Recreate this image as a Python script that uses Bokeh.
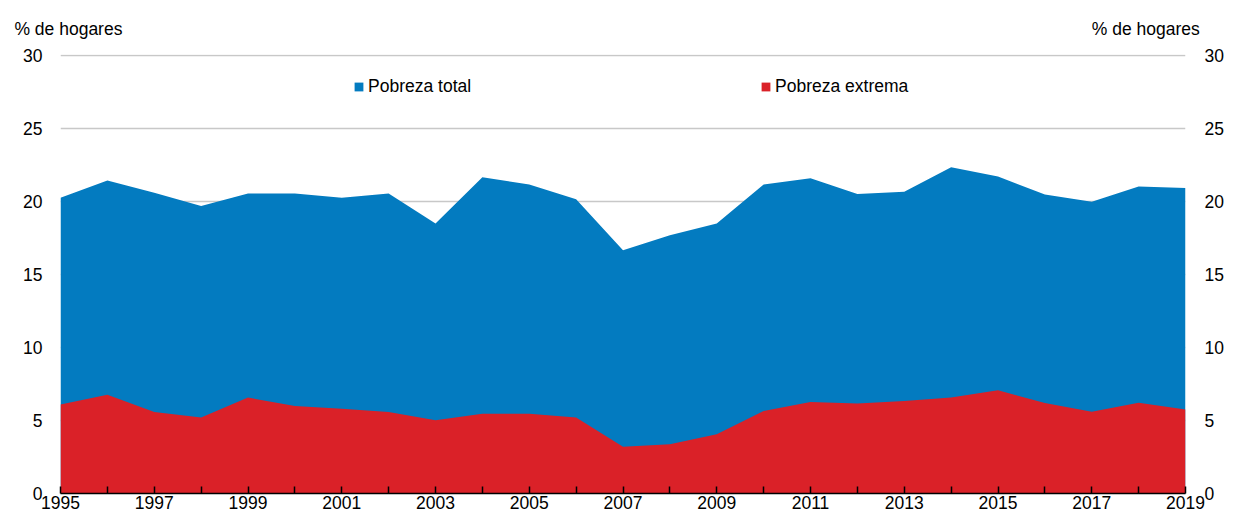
from bokeh.plotting import figure
from bokeh.models import (Range1d, LinearAxis, FixedTicker, Legend, LegendItem,
                          ColumnDataSource, CustomJSTickFormatter)
from bokeh.embed import file_html
from bokeh.resources import INLINE

years = list(range(1995, 2020))
pobreza_total = [20.26, 21.45, 20.6, 19.7, 20.55, 20.55, 20.26, 20.55, 18.5, 21.67,
                 21.17, 20.17, 16.67, 17.7, 18.5, 21.17, 21.6, 20.53, 20.67, 22.35,
                 21.72, 20.49, 19.99, 21.04, 20.94]
pobreza_extrema = [6.1, 6.77, 5.58, 5.2, 6.57, 6.0, 5.8, 5.58, 5.02, 5.47,
                   5.47, 5.2, 3.2, 3.38, 4.06, 5.65, 6.27, 6.16, 6.34, 6.57,
                   7.07, 6.2, 5.61, 6.22, 5.75]
y_ticks = [0, 5, 10, 15, 20, 25, 30]
series_names = ["Pobreza total", "Pobreza extrema"]
y_title = "% de hogares"

BLUE = "#037bc0"
RED = "#da2128"
FONT = "Liberation Sans"
FS = "17.5px"

W, H = 1226, 513
LEFT, RIGHT, TOP = 60, 1193, 54

src = ColumnDataSource(dict(x=years, total=pobreza_total, extrema=pobreza_extrema,
                            zero=[0] * len(years)))

p = figure(width=W, height=H, x_range=Range1d(1995, 2019), y_range=Range1d(0, 30.08),
           output_backend="svg", toolbar_location=None,
           min_border_left=LEFT, min_border_right=W - RIGHT, min_border_top=TOP,
           min_border_bottom=20)
p.outline_line_color = None

r_total = p.varea(x="x", y1="zero", y2="total", source=src, fill_color=BLUE)
r_ext = p.varea(x="x", y1="zero", y2="extrema", source=src, fill_color=RED)

p.xgrid.visible = False
p.ygrid.ticker = FixedTicker(ticks=y_ticks[1:])
p.ygrid.grid_line_color = "#c8c8c8"
p.ygrid.grid_line_width = 1.5

xa = p.xaxis[0]
xa.ticker = FixedTicker(ticks=years)
xa.major_label_overrides = {y: (str(y) if y % 2 == 1 else "") for y in years}
xa.axis_line_color = "black"
xa.axis_line_width = 1.5
xa.major_tick_in = 7
xa.major_tick_out = 0
xa.major_tick_line_color = "black"
xa.major_tick_line_width = 1.5
xa.minor_tick_line_color = None
xa.major_label_standoff = 2
xa.major_label_text_font = FONT
xa.major_label_text_font_size = FS
xa.major_label_text_color = "black"

ya = p.yaxis[0]
ra = LinearAxis()
p.add_layout(ra, "right")
for ax, so in ((ya, 18), (ra, 19)):
    ax.ticker = FixedTicker(ticks=y_ticks)
    ax.axis_line_color = None
    ax.major_tick_line_color = None
    ax.minor_tick_line_color = None
    ax.major_tick_in = 0
    ax.major_tick_out = 0
    ax.major_label_standoff = so
    ax.major_label_text_font = FONT
    ax.major_label_text_font_size = FS
    ax.major_label_text_color = "black"

# unit titles above both value axes, drawn as labels of a blank top axis
px_per_year = (RIGHT - LEFT) / 24.0
title_centres = [1995 + (68 - LEFT) / px_per_year, 1995 + (1153 - LEFT) / px_per_year]
ta = LinearAxis(ticker=FixedTicker(ticks=title_centres),
                formatter=CustomJSTickFormatter(code="return %r" % y_title))
ta.axis_line_color = None
ta.major_tick_line_color = None
ta.minor_tick_line_color = None
ta.major_tick_in = 0
ta.major_tick_out = 0
ta.major_label_standoff = 16
ta.major_label_text_font = FONT
ta.major_label_text_font_size = FS
ta.major_label_text_color = "black"
p.add_layout(ta, "above")

for name, rend, loc in ((series_names[0], r_total, (293, 396)),
                        (series_names[1], r_ext, (700, 396))):
    lg = Legend(items=[LegendItem(label=name, renderers=[rend])], location=loc,
                orientation="horizontal", glyph_width=11, glyph_height=11,
                label_height=20, label_standoff=4, padding=0, spacing=0, margin=0,
                border_line_color=None, background_fill_alpha=0,
                label_text_font=FONT, label_text_font_size=FS,
                label_text_color="black")
    p.add_layout(lg, "center")

open("out.html", "w").write(file_html(p, INLINE))
